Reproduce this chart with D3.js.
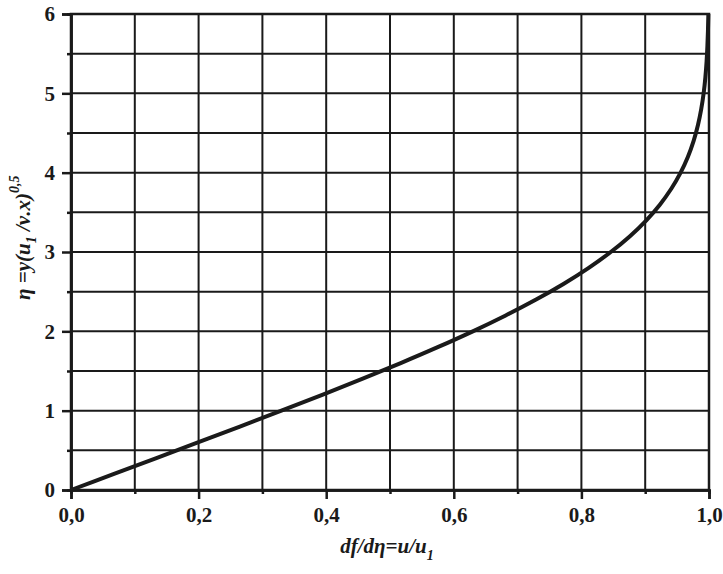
<!DOCTYPE html>
<html><head><meta charset="utf-8">
<script src="https://cdn.jsdelivr.net/npm/d3@7"></script>
<style>body{margin:0;background:#fff}svg{display:block}
svg text{font-family:"Liberation Serif","Times New Roman",serif !important;}</style>
</head><body><svg id="c" width="723" height="574"></svg>
<script>
// eta values (y) and df/deta = u/u1 (x)
const eta = [0,0.2,0.4,0.6,0.8,1.0,1.2,1.4,1.6,1.8,2.0,2.2,2.4,2.6,2.8,3.0,3.2,3.4,3.6,3.8,4.0,4.2,4.4,4.6,4.8,5.0,5.2,5.4,5.6,5.8,6.0];
const uRatio = [0,0.0664,0.1328,0.1989,0.2647,0.3298,0.3938,0.4563,0.5168,0.5748,0.6298,0.6813,0.7290,0.7725,0.8115,0.8460,0.8761,0.9018,0.9233,0.9411,0.9555,0.9670,0.9759,0.9827,0.9878,0.9916,0.9943,0.9962,0.9975,0.9984,0.9990];
const xTickLabels = ["0,0","0,2","0,4","0,6","0,8","1,0"];
const xTickValues = [0,0.2,0.4,0.6,0.8,1.0];
const yTickValues = [0,1,2,3,4,5,6];

const svg = d3.select("#c");
const L=71,R=709,T=14,B=490;
const x = d3.scaleLinear().domain([0,1]).range([L,R]);
const y = d3.scaleLinear().domain([0,6]).range([B,T]);
const ink="#1a1a1a";
const font="'Liberation Serif','Times New Roman',serif";

// grid
const g = svg.append("g");
d3.range(0,1.0001,0.1).forEach(v=>{
  g.append("line").attr("x1",x(v)).attr("x2",x(v)).attr("y1",T).attr("y2",B).attr("stroke",ink).attr("stroke-width",2);
});
d3.range(0,6.0001,0.5).forEach(v=>{
  g.append("line").attr("x1",L).attr("x2",R).attr("y1",y(v)).attr("y2",y(v)).attr("stroke",ink).attr("stroke-width",2);
});

// axes ticks
const xMinor = d3.range(0.1,1,0.2);
const xa = svg.append("g").attr("transform",`translate(0,${B})`)
  .call(d3.axisBottom(x).tickValues(xTickValues).tickSize(9).tickFormat((d,i)=>xTickLabels[i]).tickPadding(8));
const xm = svg.append("g").attr("transform",`translate(0,${B})`)
  .call(d3.axisBottom(x).tickValues(xMinor).tickSize(4).tickFormat(""));
const ya = svg.append("g").attr("transform",`translate(${L},0)`)
  .call(d3.axisLeft(y).tickValues(yTickValues).tickSize(9).tickFormat(d3.format("d")).tickPadding(7));
const ym = svg.append("g").attr("transform",`translate(${L},0)`)
  .call(d3.axisLeft(y).tickValues(d3.range(0.5,6,1)).tickSize(4).tickFormat(""));
[xa,xm,ya,ym].forEach(a=>{
  a.attr("font-family",font);
  a.select(".domain").attr("stroke",ink).attr("stroke-width",2.5);
  a.selectAll(".tick line").attr("stroke",ink).attr("stroke-width",2.5);
  a.selectAll("text").attr("fill",ink).attr("font-weight","bold").attr("font-size",21);
});
// frame
svg.append("rect").attr("x",L).attr("y",T).attr("width",R-L).attr("height",B-T)
  .attr("fill","none").attr("stroke",ink).attr("stroke-width",2.5);

// curve
const pts = eta.map((e,i)=>[uRatio[i],e]);
svg.append("path").datum(pts)
  .attr("d",d3.line().x(d=>x(d[0])).y(d=>y(d[1])).curve(d3.curveMonotoneY))
  .attr("fill","none").attr("stroke",ink).attr("stroke-width",4);

// x title
const xt = svg.append("text").attr("x",387).attr("y",553).attr("text-anchor","middle")
  .attr("font-style","italic").attr("font-weight","bold").attr("font-size",21).attr("fill",ink);
xt.append("tspan").text("df/dη=u/u");
xt.append("tspan").attr("dy",7).attr("font-size",14).text("1");

// y title
const yt = svg.append("text").attr("transform","translate(30,300) rotate(-90)").attr("text-anchor","start")
  .attr("font-style","italic").attr("font-weight","bold").attr("font-size",21).attr("fill",ink);
yt.append("tspan").text("η =y(u");
yt.append("tspan").attr("dy",6).attr("font-size",14).text("1");
yt.append("tspan").attr("dy",-6).text(" /ν.x)");
yt.append("tspan").attr("dy",-11).attr("font-size",14).text("0,5");
</script></body></html>
